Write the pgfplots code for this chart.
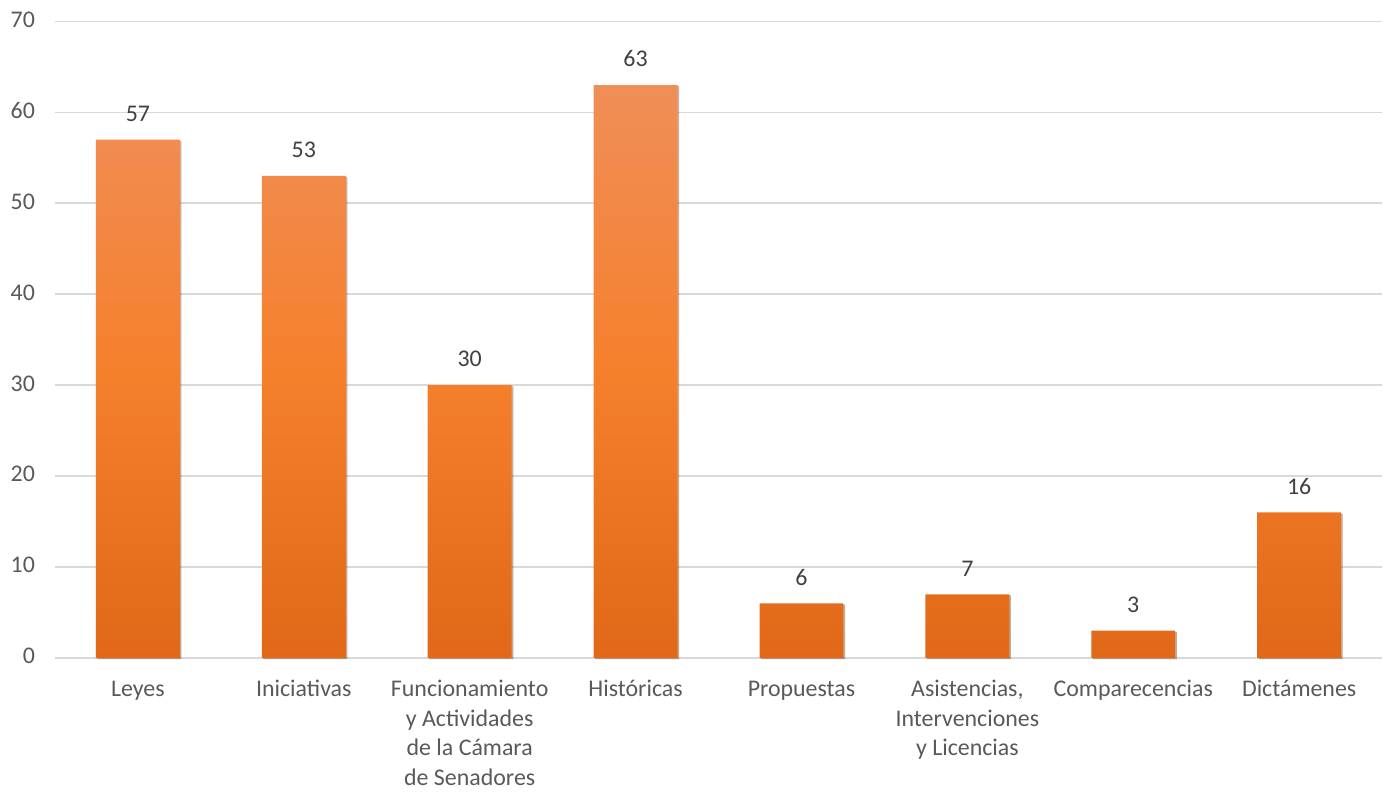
\documentclass[border=0pt]{standalone}
\usepackage{pgfplots}
\pgfplotsset{compat=1.18}
\usepackage{fontspec}
\setmainfont{Carlito}
\usetikzlibrary{shadows,calc}
\definecolor{barTop}{RGB}{240,142,88}
\definecolor{barMid}{RGB}{245,128,44}
\definecolor{barBot}{RGB}{224,104,24}
\definecolor{gridc}{RGB}{217,217,217}
\definecolor{tickc}{RGB}{89,89,89}
\definecolor{valc}{RGB}{64,64,64}
\begin{document}
\begin{tikzpicture}
\begin{axis}[
  scale only axis,
  width=664bp, height=318.5bp,
  ymin=0, ymax=70, ytick={0,10,...,70},
  xmin=-0.5, xmax=7.5,
  xtick={0,...,7},
  xticklabels={Leyes,Iniciativas,{Funcionamiento\\y Actividades\\de la Cámara\\de Senadores},Históricas,Propuestas,{Asistencias,\\Intervenciones\\y Licencias},Comparecencias,Dictámenes},
  axis x line*=bottom,
  axis y line*=left,
  y axis line style={draw=none},
  x axis line style={gridc, line width=0.9bp},
  ymajorgrids,
  grid style={gridc, line width=0.75bp},
  major tick length=0pt,
  tick style={draw=none},
  typeset ticklabels with strut,
  /pgf/number format/assume math mode=true,
  ticklabel style={font=\fontsize{12}{14.8}\selectfont, text=tickc},
  xticklabel style={align=center, anchor=north, yshift=-5.5bp},
  yticklabel style={anchor=east, xshift=-6.5bp},
  ybar,
  bar width=42bp,
  nodes near coords,
  nodes near coords style={font=\fontsize{12}{14}\selectfont, text=valc, yshift=5.5bp},
  clip=false,
]
\addplot[draw=none, top color=barTop, bottom color=barBot, middle color=barMid,
  drop shadow={shadow xshift=0.8bp, shadow yshift=-0.6bp, opacity=0.25, fill=black}]
  coordinates {(0,57) (1,53) (2,30) (3,63) (4,6) (5,7) (6,3) (7,16)};
\end{axis}
\path (current axis.south west) ++(-27.5bp,-64bp) rectangle ($(current axis.north east)+(0,10bp)$);
\end{tikzpicture}
\end{document}
